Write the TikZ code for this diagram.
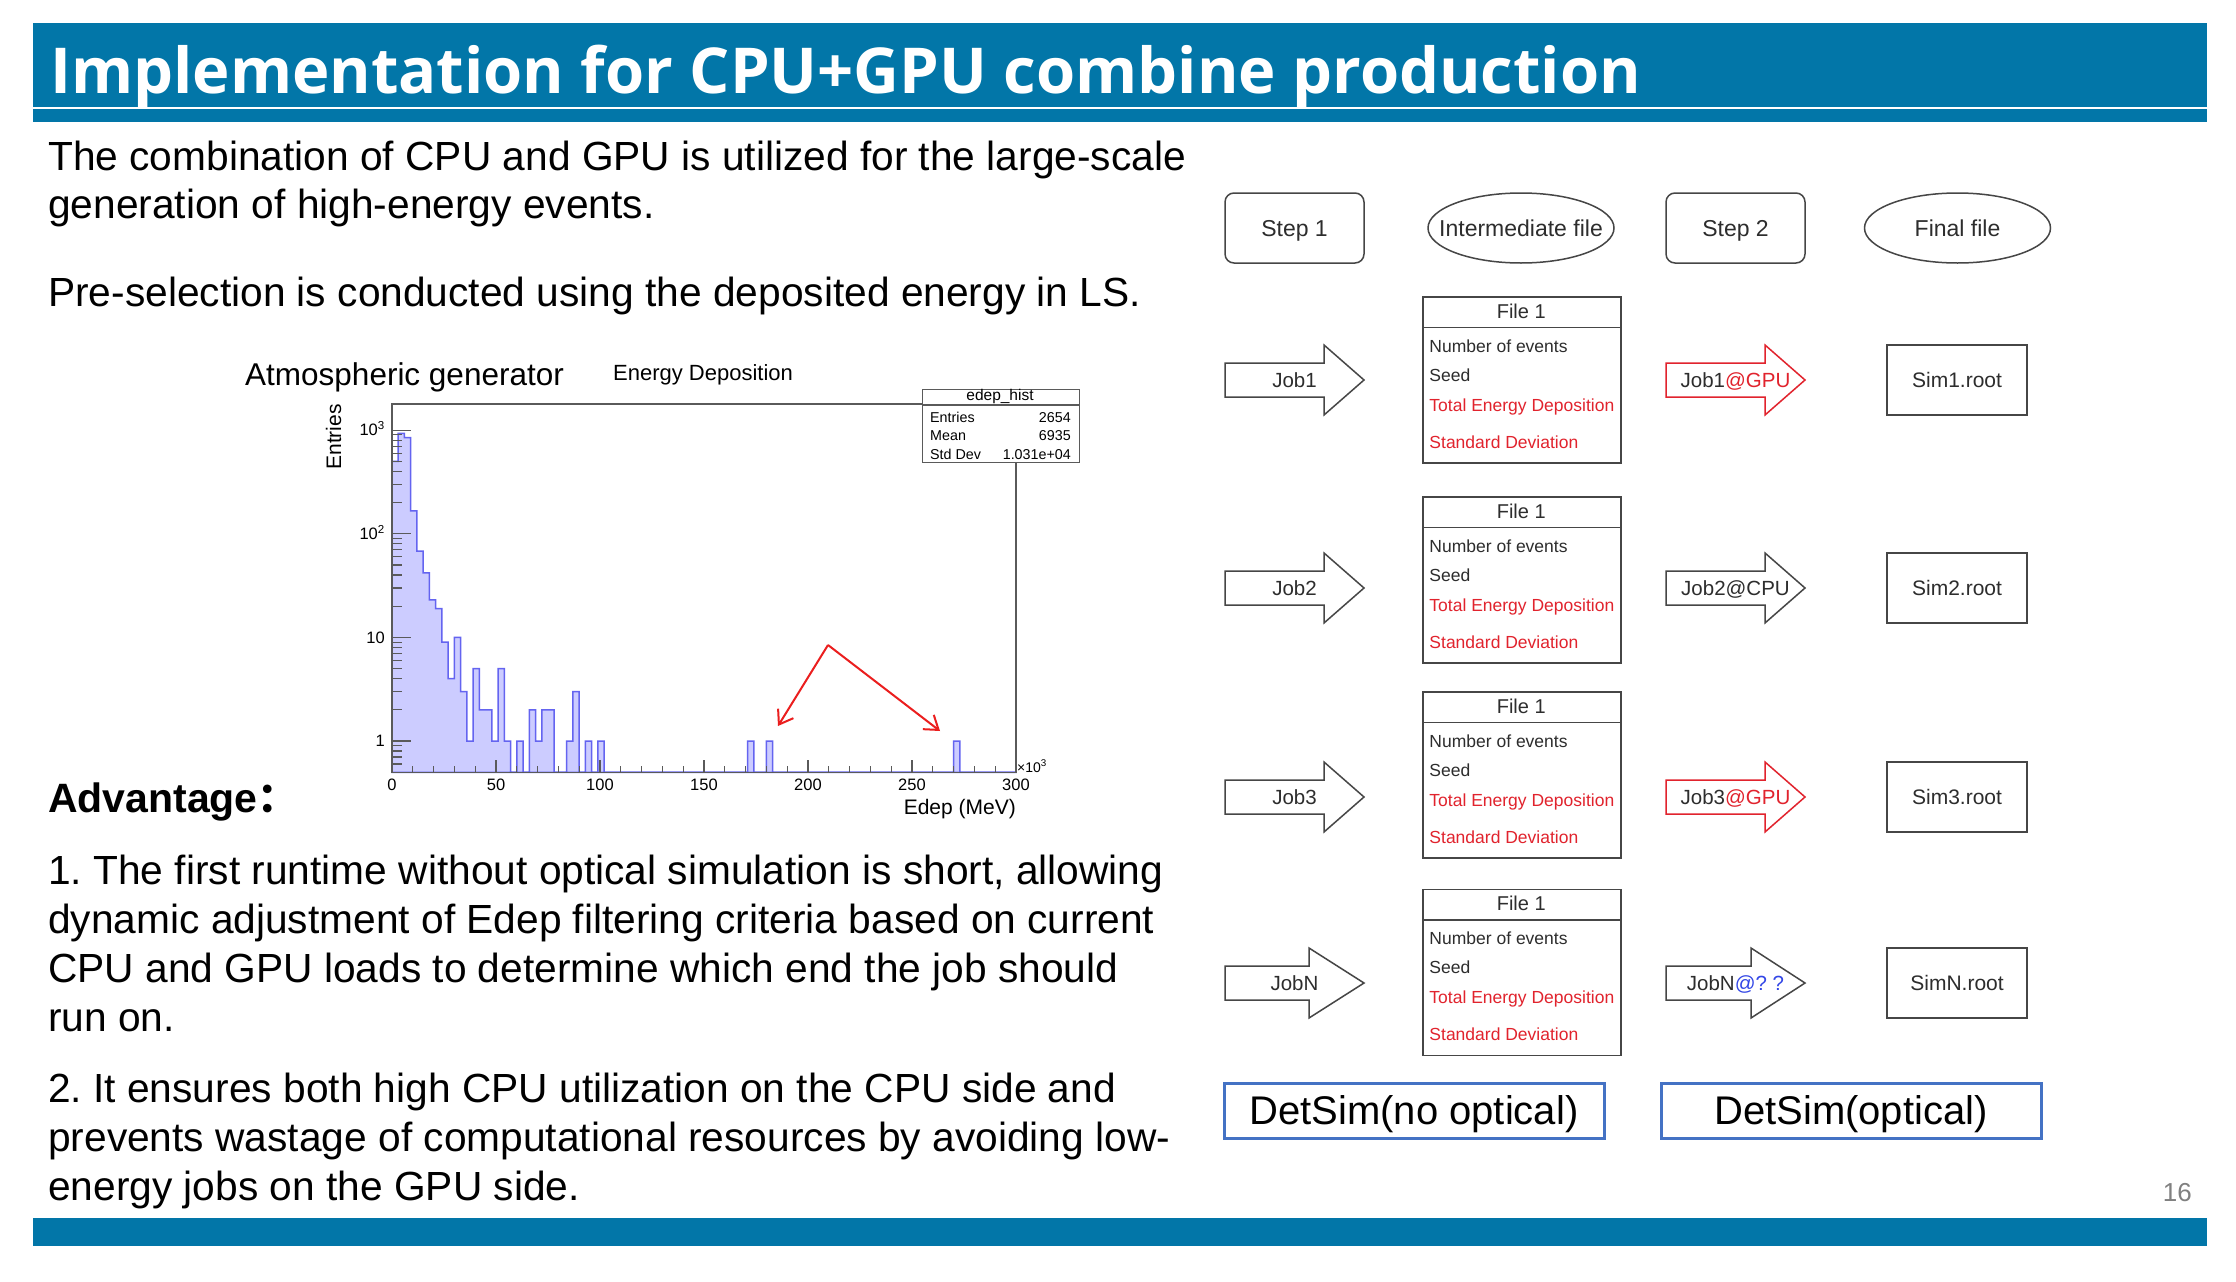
\documentclass[tikz,border=0pt]{standalone}
\usepackage{fontspec}
\setmainfont{Liberation Sans}
\newfontfamily\titlefont{Open Sans}
\newfontfamily\cjkfont{Noto Sans CJK SC}
\usetikzlibrary{shapes.geometric,arrows.meta}
\frenchspacing

\definecolor{barblue}{RGB}{2,118,168}
\definecolor{flowred}{RGB}{225,35,45}
\definecolor{flowblue}{RGB}{50,70,230}
\definecolor{boxblue}{RGB}{68,114,196}
\definecolor{histfill}{RGB}{204,204,255}
\definecolor{histline}{RGB}{100,100,240}
\definecolor{flowtext}{RGB}{45,45,45}
\definecolor{flowline}{RGB}{70,70,70}
\definecolor{axisgray}{RGB}{90,90,90}
\definecolor{arrowred}{RGB}{235,30,30}

\newcommand\setpx[1]{\fontsize{#1}{#1}\selectfont}

% block arrow: name, left x, head base x, tip x, centre y, style, text
\newcommand\fatarrow[7]{%
  \draw[#6] (#2,#5-17) -- (#3,#5-17) -- (#3,#5-35) -- (#4,#5)
    -- (#3,#5+35) -- (#3,#5+17) -- (#2,#5+17) -- cycle;
  \node[joblabel] (#1) at ({(#2+#4)/2},#5) {#7};
}

% intermediate file table: name, centre y
\newcommand\filetable[2]{%
  \node[filebox] (#1) at (1522,#2) {};
  \draw[flowline,line width=1.5] ([shift={(0,31)}]#1.north west) -- ([shift={(0,31)}]#1.north east);
  \node[anchor=base,inner sep=0,font=\setpx{20},text=flowtext] (#1-h) at ([shift={(99,22)}]#1.north west) {File 1};
  \node[tabtext] (#1-a) at ([shift={(7,56)}]#1.north west) {Number of events};
  \node[tabtext] (#1-b) at ([shift={(7,85)}]#1.north west) {Seed};
  \node[tabred]  (#1-c) at ([shift={(7,115)}]#1.north west) {Total Energy Deposition};
  \node[tabred]  (#1-d) at ([shift={(7,152)}]#1.north west) {Standard Deviation};
}

\begin{document}
\begin{tikzpicture}[x=1pt,y=-1pt,
  body/.style={anchor=base west,inner sep=0,font=\setpx{40.7}},
  ticklabel/.style={inner sep=0,font=\setpx{16.5}},
  stepbox/.style={draw=flowline,line width=1.5,rounded corners=9,minimum width=139,minimum height=70,
    inner sep=0,text=flowtext,font=\setpx{23},text height=16.5,text depth=0},
  fileell/.style={ellipse,draw=flowline,line width=1.5,minimum width=186,minimum height=70,inner sep=0},
  ellabel/.style={text=flowtext,font=\setpx{23},text height=16.5,text depth=0,inner sep=0},
  filebox/.style={draw=flowline,line width=1.5,minimum width=198,minimum height=166,inner sep=0},
  tabtext/.style={anchor=base west,inner sep=0,font=\setpx{17.5},text=flowtext},
  tabred/.style={tabtext,text=flowred},
  jobarrow/.style={draw=flowline,line width=1.5,fill=white},
  gpuarrow/.style={draw=flowred,line width=1.5,fill=white},
  joblabel/.style={inner sep=0,font=\setpx{20.5},text=flowtext,text height=14.7,text depth=0},
  simbox/.style={draw=flowline,line width=1.5,minimum width=140,minimum height=70,inner sep=0,
    font=\setpx{21},text=flowtext,text height=15,text depth=0},
  detbox/.style={draw=boxblue,line width=3,minimum width=380,minimum height=55,inner sep=0,
    font=\setpx{40},text height=28.6,text depth=0},
  redarrow/.style={draw=arrowred,line width=2,-{Straight Barb[length=13,width=18]}},
  stattext/.style={inner sep=0,font=\setpx{14.3}}
]
\useasboundingbox (0,0) rectangle (2236,1282);
\fill[white] (0,0) rectangle (2236,1282);

% ---------- title and footer bars ----------
\fill[barblue] (33,23) rectangle (2207,122);
\draw[white,line width=2] (33,108) -- (2207,108);
\node[anchor=base west,inner sep=0,text=white,font=\titlefont\bfseries\setpx{63.3}] (title) at (50,93)
  {Implementation for CPU+GPU combine production};
\fill[barblue] (33,1218) rectangle (2207,1246);
\node[anchor=base east,inner sep=0,text=gray,font=\setpx{26}] (pagenum) at (2192,1201) {16};

% ---------- left column text ----------
\node[body] (t1) at (48,170) {The combination of CPU and GPU is utilized for the large-scale};
\node[body] (t2) at (48,218) {generation of high-energy events.};
\node[body] (t3) at (48,306) {Pre-selection is conducted using the deposited energy in LS.};
\node[body,font=\setpx{41}\bfseries] (adv) at (48,812) {Advantage{\cjkfont ：}};
\node[body] (a1) at (48,884) {1. The first runtime without optical simulation is short, allowing};
\node[body] (a2) at (48,933) {dynamic adjustment of Edep filtering criteria based on current};
\node[body] (a3) at (48,982) {CPU and GPU loads to determine which end the job should};
\node[body] (a4) at (48,1031) {run on.};
\node[body] (b1) at (48,1102) {2. It ensures both high CPU utilization on the CPU side and};
\node[body] (b2) at (48,1151) {prevents wastage of computational resources by avoiding low-};
\node[body] (b3) at (48,1200) {energy jobs on the GPU side.};

% ---------- energy deposition histogram ----------
\node[anchor=base west,inner sep=0,font=\setpx{31.5}] (gen) at (245,385) {Atmospheric generator};
\node[anchor=base west,inner sep=0,font=\setpx{22}] (htitle) at (613,380) {Energy Deposition};

% bins of 3e3 MeV, empty bins set to 0.5 (bottom of the log axis)
\filldraw[fill=histfill,draw=histline,line width=1.5]
  (392,772.3) foreach \c [count=\i from 0] in {
    501,930,845,166,68,42,23,19,9,4,
    10,3,1,5,2,2,1,5,1,0.5,
    1,0.5,2,1,2,2,0.5,0.5,1,3,
    0.5,1,0.5,1,0.5,0.5,0.5,0.5,0.5,0.5,
    0.5,0.5,0.5,0.5,0.5,0.5,0.5,0.5,0.5,0.5,
    0.5,0.5,0.5,0.5,0.5,0.5,0.5,1,0.5,0.5,
    1,0.5,0.5,0.5,0.5,0.5,0.5,0.5,0.5,0.5,
    0.5,0.5,0.5,0.5,0.5,0.5,0.5,0.5,0.5,0.5,
    0.5,0.5,0.5,0.5,0.5,0.5,0.5,0.5,0.5,0.5,
    1,0.5,0.5,0.5,0.5,0.5,0.5,0.5,0.5,0.5}
  { -- ({392+6.24*\i},{741-45*ln(\c)}) -- ({392+6.24*(\i+1)},{741-45*ln(\c)}) }
  -- (1016,772.3) -- cycle;

% frame and axes
\draw[axisgray,line width=1.2] (392,404) rectangle (1016,772.3);
\foreach \c in {1,10,100,1000}
  \draw[axisgray,line width=1.2] (392,{741-45*ln(\c)}) -- ++(19,0);
\foreach \c in {0.6,0.7,0.8,0.9,2,3,4,5,6,7,8,9,20,30,40,50,60,70,80,90,200,300,400,500,600,700,800,900}
  \draw[axisgray,line width=1.2] (392,{741-45*ln(\c)}) -- ++(10,0);
\foreach \v in {0,50,...,300}
  \draw[axisgray,line width=1.2] ({392+2.08*\v},772.3) -- ++(0,-12);
\foreach \v in {10,20,30,40,60,70,80,90,110,120,130,140,160,170,180,190,210,220,230,240,260,270,280,290}
  \draw[axisgray,line width=1.2] ({392+2.08*\v},772.3) -- ++(0,-6);
\foreach \v in {0,50,...,300}
  \node[ticklabel,anchor=base] (xl\v) at ({392+2.08*\v},790) {\v};
\foreach \c/\t [count=\k] in {1/1,10/10,100/10\textsuperscript{2},1000/10\textsuperscript{3}}
  \node[ticklabel,anchor=base east] (yl\k) at (385,{741-45*ln(\c)+5.8}) {\t};
\node[anchor=base west,inner sep=0,font=\setpx{14}] (xscale) at (1017,772) {×10\textsuperscript{3}};
\node[anchor=base east,inner sep=0,font=\setpx{21}] (xtitle) at (1016,814) {Edep (MeV)};
\node[rotate=90,anchor=base east,inner sep=0,font=\setpx{21}] (ytitle) at (341,404) {Entries};

% statistics box
\node[draw=axisgray,line width=1.2,fill=white,minimum width=157,minimum height=73,inner sep=0,
  anchor=north west] (stats) at (922,389) {};
\draw[axisgray,line width=1.2] (922,405) -- (1079,405);
\node[stattext,anchor=base,font=\setpx{15.5}] (sname) at (1000,400) {edep\_hist};
\node[stattext,anchor=base west] (sl1) at (930,422.7) {Entries};
\node[stattext,anchor=base east] (sv1) at (1071,422.7) {2654};
\node[stattext,anchor=base west] (sl2) at (930,440.7) {Mean};
\node[stattext,anchor=base east] (sv2) at (1071,440.7) {6935};
\node[stattext,anchor=base west] (sl3) at (930,459) {Std Dev};
\node[stattext,anchor=base east] (sv3) at (1071,459) {1.031e+04};

% arrows to the high-energy events
\coordinate (apex) at (828,645);
\coordinate (tipA) at (778,726);
\coordinate (tipB) at (940,731);
\draw[redarrow] (apex) -- (tipA);
\draw[redarrow] (apex) -- (tipB);

% ---------- production flow ----------
\node[stepbox] (step1) at (1294.5,228) {Step 1};
\node[fileell,label={[ellabel]center:Intermediate file}] (inter) at (1521,228) {};
\node[stepbox] (step2) at (1735.5,228) {Step 2};
\node[fileell,label={[ellabel]center:Final file}] (final) at (1957.5,228) {};

\fatarrow{job1}{1225}{1324}{1364}{380}{jobarrow}{Job1}
\fatarrow{job2}{1225}{1324}{1364}{588}{jobarrow}{Job2}
\fatarrow{job3}{1225}{1324}{1364}{797}{jobarrow}{Job3}
\fatarrow{jobn}{1225}{1309}{1364}{983}{jobarrow}{JobN}

\filetable{file1}{380}
\filetable{file2}{580}
\filetable{file3}{775}
\filetable{file4}{972.5}

\fatarrow{run1}{1666}{1765}{1805}{380}{gpuarrow}{Job1\textcolor{flowred}{@GPU}}
\fatarrow{run2}{1666}{1765}{1805}{588}{jobarrow}{Job2@CPU}
\fatarrow{run3}{1666}{1765}{1805}{797}{gpuarrow}{Job3\textcolor{flowred}{@GPU}}
\fatarrow{runn}{1666}{1751}{1805}{983}{jobarrow}{JobN\textcolor{flowblue}{@? ?}}

\node[simbox] (sim1) at (1957,380) {Sim1.root};
\node[simbox] (sim2) at (1957,588) {Sim2.root};
\node[simbox] (sim3) at (1957,797) {Sim3.root};
\node[simbox] (simn) at (1957,983) {SimN.root};

\node[detbox] (det1) at (1414,1110.5) {DetSim(no optical)};
\node[detbox] (det2) at (1851,1110.5) {DetSim(optical)};
\end{tikzpicture}
\end{document}
